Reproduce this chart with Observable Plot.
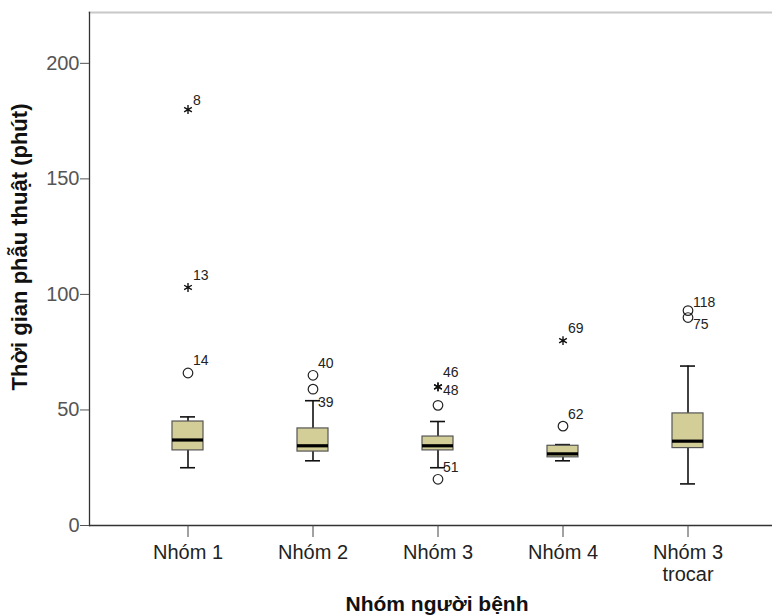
<!DOCTYPE html>
<html>
<head>
<meta charset="utf-8">
<script src="https://cdn.jsdelivr.net/npm/d3@7"></script>
<script src="https://cdn.jsdelivr.net/npm/@observablehq/plot@0.6"></script>
<style>
  html, body { margin: 0; padding: 0; background: #fff; }
  #chart { width: 772px; height: 616px; }
  svg { font-family: "Liberation Sans", Arial, sans-serif; }
</style>
</head>
<body>
<div id="chart"></div>
<script>
// ---- data ----
const categories = ["Nhóm 1", "Nhóm 2", "Nhóm 3", "Nhóm 4", "Nhóm 3 trocar"];
const categoryLabels = ["Nhóm 1", "Nhóm 2", "Nhóm 3", "Nhóm 4", "Nhóm 3\ntrocar"];
const q1 = [32.5, 32, 32.5, 29.5, 33.5];
const median = [37, 34.5, 34.5, 31, 36.5];
const q3 = [45, 42, 38.5, 34.5, 48.5];
const whiskerLow = [25, 28, 25, 28, 18];
const whiskerHigh = [47, 54, 45, 35, 69];

const outlierGroup = ["Nhóm 1", "Nhóm 1", "Nhóm 1", "Nhóm 2", "Nhóm 2", "Nhóm 3", "Nhóm 3", "Nhóm 3", "Nhóm 3", "Nhóm 4", "Nhóm 4", "Nhóm 3 trocar", "Nhóm 3 trocar"];
const outlierValue = [180, 103, 66, 65, 59, 60, 60, 52, 20, 80, 43, 93, 90];
const outlierId = ["8", "13", "14", "40", "39", "46", "48", "", "51", "69", "62", "118", "75"];
const outlierKind = ["extreme", "extreme", "outlier", "outlier", "outlier", "extreme", "extreme", "outlier", "outlier", "extreme", "outlier", "outlier", "outlier"];

const yTicks = [0, 50, 100, 150, 200];

// ---- label placement (style) ----
const labelDyDefault = -12;
const labelDyById = {"8": -9, "39": 13, "46": -14, "48": 4, "75": 7, "118": -8};

// ---- tables built from arrays ----
const boxes = categories.map((c, i) => ({
  group: c, q1: q1[i], median: median[i], q3: q3[i], lo: whiskerLow[i], hi: whiskerHigh[i]
}));
const outliers = outlierValue.map((v, i) => ({
  group: outlierGroup[i], value: v, id: outlierId[i], kind: outlierKind[i]
}));
const labelText = new Map(categories.map((c, i) => [c, categoryLabels[i]]));

const font = '"Liberation Sans", Arial, sans-serif';
const labelMarks = outliers.filter(d => d.id !== "").map(d => {
  const dy = labelDyById[d.id] ?? labelDyDefault;
  return Plot.text([d], {
    x: "group", y: "value", text: "id", dx: 5, dy,
    textAnchor: "start", fontSize: 14, fill: "#222", fontFamily: font
  });
});

const chart = Plot.plot({
  width: 772,
  height: 616,
  marginLeft: 89,
  marginRight: 0,
  marginTop: 12,
  marginBottom: 91,
  style: {fontFamily: font, background: "#fff"},
  x: {type: "band", domain: categories, range: [89, 786], padding: 0.54},
  y: {domain: [0, 222]},
  marks: [
    Plot.frame({anchor: "top", stroke: "#c8c8c8", strokeWidth: 2}),
    Plot.frame({anchor: "left", stroke: "#333", strokeWidth: 1.3}),
    Plot.ruleY([0], {stroke: "#333", strokeWidth: 1.3}),
    Plot.axisY({
      ticks: yTicks, tickSize: 9, tickPadding: 1, label: null,
      fontSize: 20, fill: "#555", stroke: "#555", fontFamily: font
    }),
    Plot.axisX({
      tickSize: 12, tickPadding: 6, label: null, fontSize: 20, fill: "#222",
      stroke: "#444", lineHeight: 1.1, fontFamily: font,
      tickFormat: d => labelText.get(d)
    }),
    Plot.text(["Thời gian phẫu thuật (phút)"], {
      frameAnchor: "left", textAnchor: "middle", lineAnchor: "middle",
      dx: -70, dy: -22, rotate: -90,
      fontSize: 22, fontWeight: "bold", fill: "#111", fontFamily: font
    }),
    Plot.text(["Nhóm người bệnh"], {
      frameAnchor: "bottom", textAnchor: "middle", lineAnchor: "middle",
      dx: 6, dy: 79,
      fontSize: 21, fontWeight: "bold", fill: "#111", fontFamily: font
    }),
    // whiskers
    Plot.ruleX(boxes, {x: "group", y1: "lo", y2: "hi", stroke: "#111", strokeWidth: 1.6}),
    Plot.tickY(boxes, {x: "group", y: "lo", stroke: "#111", strokeWidth: 1.6, insetLeft: 21, insetRight: 21}),
    Plot.tickY(boxes, {x: "group", y: "hi", stroke: "#111", strokeWidth: 1.6, insetLeft: 21, insetRight: 21}),
    // boxes
    Plot.barY(boxes, {x: "group", y1: "q1", y2: "q3", fill: "#d3ce97", stroke: "#555", strokeWidth: 1.2, insetLeft: 13, insetRight: 13}),
    Plot.tickY(boxes, {x: "group", y: "median", stroke: "#000", strokeWidth: 3.2, insetLeft: 13, insetRight: 13}),
    // outliers
    Plot.dot(outliers.filter(d => d.kind === "outlier"), {
      x: "group", y: "value", r: 4.8, stroke: "#222", strokeWidth: 1.2, fill: "none"
    }),
    Plot.dot(outliers.filter(d => d.kind === "extreme"), {
      x: "group", y: "value", symbol: "asterisk", r: 4.2, stroke: "#111", strokeWidth: 1.4
    }),
    ...labelMarks
  ]
});
document.getElementById("chart").append(chart);
</script>
</body>
</html>
